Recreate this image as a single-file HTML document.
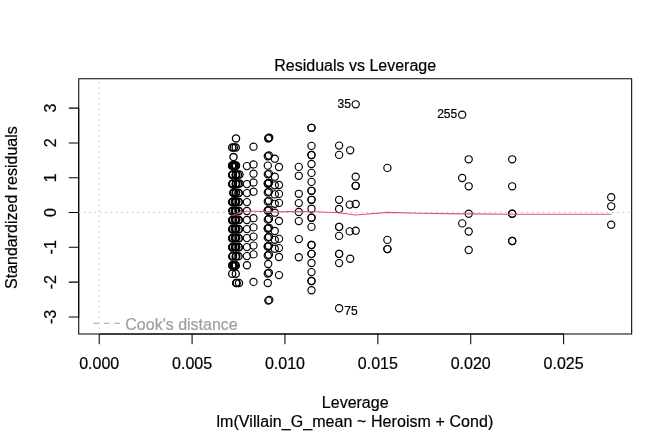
<!DOCTYPE html>
<html lang="en"><head><meta charset="utf-8"><title>Residuals vs Leverage</title>
<style>
html,body{margin:0;padding:0;background:#fff;}
body{width:672px;height:432px;overflow:hidden;position:relative;font-family:"Liberation Sans",Arial,Helvetica,sans-serif;}
</style></head><body>
<svg width="672" height="432" viewBox="0 0 672 432" style="display:block;position:absolute;left:0;top:0">
<rect width="672" height="432" fill="#fff"/>
<g font-family="'Liberation Sans', Arial, Helvetica, sans-serif" font-size="16" fill="#000" stroke="#000" stroke-width="0.2">
<g fill="none" stroke="#000" stroke-width="1.15"><circle cx="236.00" cy="138.40" r="3.6" stroke-width="1.3"/>
<circle cx="232.20" cy="147.46" r="3.6" stroke-width="1.3"/>
<circle cx="233.80" cy="147.46" r="3.6" stroke-width="1.3"/>
<circle cx="235.70" cy="147.46" r="3.6" stroke-width="1.3"/>
<circle cx="233.50" cy="157.10" r="3.6" stroke-width="1.3"/>
<circle cx="232.10" cy="165.83" r="3.6" stroke-width="1.3"/>
<circle cx="232.20" cy="165.83" r="3.6" stroke-width="1.3"/>
<circle cx="232.90" cy="165.28" r="3.6" stroke-width="1.3"/>
<circle cx="233.50" cy="165.68" r="3.6" stroke-width="1.3"/>
<circle cx="234.10" cy="165.33" r="3.6" stroke-width="1.3"/>
<circle cx="234.80" cy="165.33" r="3.6" stroke-width="1.3"/>
<circle cx="235.30" cy="165.88" r="3.6" stroke-width="1.3"/>
<circle cx="235.70" cy="165.88" r="3.6" stroke-width="1.3"/>
<circle cx="236.00" cy="165.38" r="3.6" stroke-width="1.3"/>
<circle cx="232.30" cy="174.89" r="3.6" stroke-width="1.3"/>
<circle cx="232.30" cy="174.89" r="3.6" stroke-width="1.3"/>
<circle cx="232.95" cy="174.34" r="3.6" stroke-width="1.3"/>
<circle cx="235.70" cy="174.94" r="3.6" stroke-width="1.3"/>
<circle cx="236.10" cy="174.44" r="3.6" stroke-width="1.3"/>
<circle cx="236.10" cy="174.44" r="3.6" stroke-width="1.3"/>
<circle cx="238.00" cy="174.79" r="3.6" stroke-width="1.3"/>
<circle cx="239.50" cy="174.54" r="3.6" stroke-width="1.3"/>
<circle cx="232.30" cy="183.95" r="3.6" stroke-width="1.3"/>
<circle cx="232.30" cy="183.95" r="3.6" stroke-width="1.3"/>
<circle cx="232.95" cy="183.40" r="3.6" stroke-width="1.3"/>
<circle cx="235.70" cy="184.00" r="3.6" stroke-width="1.3"/>
<circle cx="236.10" cy="183.50" r="3.6" stroke-width="1.3"/>
<circle cx="236.10" cy="183.50" r="3.6" stroke-width="1.3"/>
<circle cx="238.00" cy="183.85" r="3.6" stroke-width="1.3"/>
<circle cx="239.50" cy="183.60" r="3.6" stroke-width="1.3"/>
<circle cx="233.40" cy="192.86" r="3.6" stroke-width="1.3"/>
<circle cx="233.40" cy="192.86" r="3.6" stroke-width="1.3"/>
<circle cx="234.00" cy="192.51" r="3.6" stroke-width="1.3"/>
<circle cx="235.70" cy="193.06" r="3.6" stroke-width="1.3"/>
<circle cx="236.10" cy="192.56" r="3.6" stroke-width="1.3"/>
<circle cx="238.60" cy="192.91" r="3.6" stroke-width="1.3"/>
<circle cx="238.60" cy="192.91" r="3.6" stroke-width="1.3"/>
<circle cx="232.30" cy="202.07" r="3.6" stroke-width="1.3"/>
<circle cx="232.30" cy="202.07" r="3.6" stroke-width="1.3"/>
<circle cx="232.95" cy="201.52" r="3.6" stroke-width="1.3"/>
<circle cx="234.90" cy="201.57" r="3.6" stroke-width="1.3"/>
<circle cx="235.70" cy="202.12" r="3.6" stroke-width="1.3"/>
<circle cx="236.10" cy="201.62" r="3.6" stroke-width="1.3"/>
<circle cx="236.10" cy="201.62" r="3.6" stroke-width="1.3"/>
<circle cx="238.70" cy="201.97" r="3.6" stroke-width="1.3"/>
<circle cx="238.70" cy="201.97" r="3.6" stroke-width="1.3"/>
<circle cx="232.30" cy="211.13" r="3.6" stroke-width="1.3"/>
<circle cx="232.30" cy="211.13" r="3.6" stroke-width="1.3"/>
<circle cx="232.95" cy="210.58" r="3.6" stroke-width="1.3"/>
<circle cx="234.90" cy="210.63" r="3.6" stroke-width="1.3"/>
<circle cx="235.70" cy="211.18" r="3.6" stroke-width="1.3"/>
<circle cx="236.10" cy="210.68" r="3.6" stroke-width="1.3"/>
<circle cx="236.10" cy="210.68" r="3.6" stroke-width="1.3"/>
<circle cx="238.70" cy="211.03" r="3.6" stroke-width="1.3"/>
<circle cx="238.70" cy="211.03" r="3.6" stroke-width="1.3"/>
<circle cx="232.30" cy="220.19" r="3.6" stroke-width="1.3"/>
<circle cx="232.30" cy="220.19" r="3.6" stroke-width="1.3"/>
<circle cx="232.95" cy="219.64" r="3.6" stroke-width="1.3"/>
<circle cx="234.90" cy="219.69" r="3.6" stroke-width="1.3"/>
<circle cx="235.70" cy="220.24" r="3.6" stroke-width="1.3"/>
<circle cx="236.10" cy="219.74" r="3.6" stroke-width="1.3"/>
<circle cx="236.10" cy="219.74" r="3.6" stroke-width="1.3"/>
<circle cx="238.70" cy="220.09" r="3.6" stroke-width="1.3"/>
<circle cx="238.70" cy="220.09" r="3.6" stroke-width="1.3"/>
<circle cx="232.30" cy="229.25" r="3.6" stroke-width="1.3"/>
<circle cx="232.30" cy="229.25" r="3.6" stroke-width="1.3"/>
<circle cx="232.95" cy="228.70" r="3.6" stroke-width="1.3"/>
<circle cx="234.90" cy="228.75" r="3.6" stroke-width="1.3"/>
<circle cx="235.70" cy="229.30" r="3.6" stroke-width="1.3"/>
<circle cx="236.10" cy="228.80" r="3.6" stroke-width="1.3"/>
<circle cx="236.10" cy="228.80" r="3.6" stroke-width="1.3"/>
<circle cx="238.70" cy="229.15" r="3.6" stroke-width="1.3"/>
<circle cx="238.70" cy="229.15" r="3.6" stroke-width="1.3"/>
<circle cx="232.30" cy="238.31" r="3.6" stroke-width="1.3"/>
<circle cx="232.30" cy="238.31" r="3.6" stroke-width="1.3"/>
<circle cx="232.95" cy="237.76" r="3.6" stroke-width="1.3"/>
<circle cx="234.90" cy="237.81" r="3.6" stroke-width="1.3"/>
<circle cx="235.70" cy="238.36" r="3.6" stroke-width="1.3"/>
<circle cx="236.10" cy="237.86" r="3.6" stroke-width="1.3"/>
<circle cx="236.10" cy="237.86" r="3.6" stroke-width="1.3"/>
<circle cx="238.70" cy="238.21" r="3.6" stroke-width="1.3"/>
<circle cx="238.70" cy="238.21" r="3.6" stroke-width="1.3"/>
<circle cx="232.30" cy="247.37" r="3.6" stroke-width="1.3"/>
<circle cx="232.30" cy="247.37" r="3.6" stroke-width="1.3"/>
<circle cx="232.95" cy="246.82" r="3.6" stroke-width="1.3"/>
<circle cx="234.90" cy="246.87" r="3.6" stroke-width="1.3"/>
<circle cx="235.70" cy="247.42" r="3.6" stroke-width="1.3"/>
<circle cx="236.10" cy="246.92" r="3.6" stroke-width="1.3"/>
<circle cx="236.10" cy="246.92" r="3.6" stroke-width="1.3"/>
<circle cx="238.70" cy="247.27" r="3.6" stroke-width="1.3"/>
<circle cx="238.70" cy="247.27" r="3.6" stroke-width="1.3"/>
<circle cx="232.30" cy="256.43" r="3.6" stroke-width="1.3"/>
<circle cx="233.00" cy="255.88" r="3.6" stroke-width="1.3"/>
<circle cx="235.70" cy="256.48" r="3.6" stroke-width="1.3"/>
<circle cx="236.30" cy="255.98" r="3.6" stroke-width="1.3"/>
<circle cx="238.50" cy="256.33" r="3.6" stroke-width="1.3"/>
<circle cx="232.30" cy="265.49" r="3.6" stroke-width="1.3"/>
<circle cx="232.30" cy="265.49" r="3.6" stroke-width="1.3"/>
<circle cx="232.95" cy="264.94" r="3.6" stroke-width="1.3"/>
<circle cx="233.80" cy="265.34" r="3.6" stroke-width="1.3"/>
<circle cx="234.90" cy="264.99" r="3.6" stroke-width="1.3"/>
<circle cx="235.70" cy="265.54" r="3.6" stroke-width="1.3"/>
<circle cx="235.70" cy="265.54" r="3.6" stroke-width="1.3"/>
<circle cx="232.20" cy="273.70" r="3.6" stroke-width="1.3"/>
<circle cx="235.80" cy="273.70" r="3.6" stroke-width="1.3"/>
<circle cx="236.10" cy="283.00" r="3.6" stroke-width="1.3"/>
<circle cx="236.70" cy="283.00" r="3.6" stroke-width="1.3"/>
<circle cx="239.00" cy="283.00" r="3.6" stroke-width="1.3"/>
<circle cx="246.90" cy="166.10" r="3.6"/>
<circle cx="246.90" cy="184.10" r="3.6"/>
<circle cx="246.90" cy="193.10" r="3.6"/>
<circle cx="246.90" cy="202.10" r="3.6"/>
<circle cx="246.90" cy="211.00" r="3.6"/>
<circle cx="246.90" cy="220.00" r="3.6"/>
<circle cx="246.90" cy="229.10" r="3.6"/>
<circle cx="246.90" cy="238.10" r="3.6"/>
<circle cx="246.90" cy="247.10" r="3.6"/>
<circle cx="246.90" cy="256.10" r="3.6"/>
<circle cx="246.90" cy="265.20" r="3.6"/>
<circle cx="253.50" cy="146.70" r="3.6"/>
<circle cx="253.50" cy="164.50" r="3.6"/>
<circle cx="253.50" cy="173.70" r="3.6"/>
<circle cx="253.50" cy="182.50" r="3.6"/>
<circle cx="253.50" cy="191.70" r="3.6"/>
<circle cx="253.50" cy="218.20" r="3.6"/>
<circle cx="253.50" cy="227.40" r="3.6"/>
<circle cx="253.50" cy="236.60" r="3.6"/>
<circle cx="253.50" cy="245.60" r="3.6"/>
<circle cx="253.50" cy="254.40" r="3.6"/>
<circle cx="253.50" cy="281.90" r="3.6"/>
<circle cx="268.20" cy="138.45" r="3.6"/>
<circle cx="268.75" cy="138.00" r="3.6"/>
<circle cx="269.30" cy="137.60" r="3.6"/>
<circle cx="267.80" cy="156.25" r="3.6"/>
<circle cx="268.90" cy="155.50" r="3.6"/>
<circle cx="267.80" cy="165.65" r="3.6"/>
<circle cx="267.80" cy="174.35" r="3.6"/>
<circle cx="268.90" cy="173.60" r="3.6"/>
<circle cx="267.80" cy="183.55" r="3.6"/>
<circle cx="267.80" cy="183.55" r="3.6"/>
<circle cx="268.90" cy="182.80" r="3.6"/>
<circle cx="268.90" cy="182.80" r="3.6"/>
<circle cx="267.80" cy="192.45" r="3.6"/>
<circle cx="268.90" cy="191.70" r="3.6"/>
<circle cx="267.80" cy="201.55" r="3.6"/>
<circle cx="268.90" cy="200.80" r="3.6"/>
<circle cx="267.80" cy="210.55" r="3.6"/>
<circle cx="267.80" cy="210.55" r="3.6"/>
<circle cx="268.90" cy="209.80" r="3.6"/>
<circle cx="267.80" cy="219.65" r="3.6"/>
<circle cx="268.90" cy="218.90" r="3.6"/>
<circle cx="268.90" cy="218.90" r="3.6"/>
<circle cx="267.80" cy="228.55" r="3.6"/>
<circle cx="267.80" cy="228.55" r="3.6"/>
<circle cx="268.90" cy="227.80" r="3.6"/>
<circle cx="267.80" cy="237.65" r="3.6"/>
<circle cx="268.90" cy="236.90" r="3.6"/>
<circle cx="268.90" cy="236.90" r="3.6"/>
<circle cx="267.80" cy="246.55" r="3.6"/>
<circle cx="267.80" cy="246.55" r="3.6"/>
<circle cx="268.90" cy="245.80" r="3.6"/>
<circle cx="267.80" cy="255.45" r="3.6"/>
<circle cx="268.90" cy="254.70" r="3.6"/>
<circle cx="268.20" cy="264.00" r="3.6"/>
<circle cx="267.80" cy="273.55" r="3.6"/>
<circle cx="268.90" cy="272.80" r="3.6"/>
<circle cx="267.80" cy="283.05" r="3.6"/>
<circle cx="268.30" cy="300.60" r="3.6"/>
<circle cx="269.30" cy="299.90" r="3.6"/>
<circle cx="274.80" cy="158.70" r="3.6"/>
<circle cx="274.80" cy="176.70" r="3.6"/>
<circle cx="274.80" cy="185.30" r="3.6"/>
<circle cx="274.80" cy="194.40" r="3.6"/>
<circle cx="274.80" cy="203.80" r="3.6"/>
<circle cx="274.80" cy="212.70" r="3.6"/>
<circle cx="274.80" cy="231.00" r="3.6"/>
<circle cx="274.80" cy="239.80" r="3.6"/>
<circle cx="274.80" cy="248.70" r="3.6"/>
<circle cx="279.00" cy="167.00" r="3.6"/>
<circle cx="279.00" cy="185.00" r="3.6"/>
<circle cx="279.00" cy="193.90" r="3.6"/>
<circle cx="279.00" cy="202.90" r="3.6"/>
<circle cx="279.00" cy="221.00" r="3.6"/>
<circle cx="279.00" cy="238.90" r="3.6"/>
<circle cx="279.00" cy="248.10" r="3.6"/>
<circle cx="279.00" cy="257.00" r="3.6"/>
<circle cx="279.00" cy="275.10" r="3.6"/>
<circle cx="298.80" cy="166.90" r="3.6"/>
<circle cx="298.80" cy="175.80" r="3.6"/>
<circle cx="298.80" cy="193.80" r="3.6"/>
<circle cx="298.80" cy="203.10" r="3.6"/>
<circle cx="298.80" cy="212.00" r="3.6"/>
<circle cx="298.80" cy="221.10" r="3.6"/>
<circle cx="298.80" cy="239.10" r="3.6"/>
<circle cx="298.80" cy="257.20" r="3.6"/>
<circle cx="311.50" cy="127.80" r="3.6"/>
<circle cx="311.50" cy="127.80" r="3.6"/>
<circle cx="311.50" cy="145.90" r="3.6"/>
<circle cx="311.50" cy="155.00" r="3.6"/>
<circle cx="311.50" cy="155.00" r="3.6"/>
<circle cx="311.50" cy="164.00" r="3.6"/>
<circle cx="311.50" cy="172.90" r="3.6"/>
<circle cx="311.50" cy="181.90" r="3.6"/>
<circle cx="311.50" cy="190.80" r="3.6"/>
<circle cx="311.50" cy="190.80" r="3.6"/>
<circle cx="311.50" cy="199.80" r="3.6"/>
<circle cx="311.50" cy="199.80" r="3.6"/>
<circle cx="311.50" cy="208.70" r="3.6"/>
<circle cx="311.50" cy="217.70" r="3.6"/>
<circle cx="311.50" cy="217.70" r="3.6"/>
<circle cx="311.50" cy="226.90" r="3.6"/>
<circle cx="311.50" cy="245.00" r="3.6"/>
<circle cx="311.50" cy="245.00" r="3.6"/>
<circle cx="311.50" cy="253.90" r="3.6"/>
<circle cx="311.50" cy="253.90" r="3.6"/>
<circle cx="311.50" cy="263.00" r="3.6"/>
<circle cx="311.50" cy="272.10" r="3.6"/>
<circle cx="311.50" cy="281.00" r="3.6"/>
<circle cx="311.50" cy="281.00" r="3.6"/>
<circle cx="311.50" cy="290.20" r="3.6"/>
<circle cx="339.10" cy="145.60" r="3.6"/>
<circle cx="339.10" cy="154.90" r="3.6"/>
<circle cx="339.10" cy="199.80" r="3.6"/>
<circle cx="339.10" cy="209.00" r="3.6"/>
<circle cx="339.10" cy="226.90" r="3.6"/>
<circle cx="339.10" cy="226.90" r="3.6"/>
<circle cx="339.10" cy="235.90" r="3.6"/>
<circle cx="339.10" cy="253.90" r="3.6"/>
<circle cx="339.10" cy="253.90" r="3.6"/>
<circle cx="339.10" cy="263.10" r="3.6"/>
<circle cx="339.10" cy="308.30" r="3.6"/>
<circle cx="350.20" cy="150.30" r="3.6"/>
<circle cx="350.20" cy="258.70" r="3.6"/>
<circle cx="349.70" cy="204.60" r="3.6"/>
<circle cx="349.70" cy="231.40" r="3.6"/>
<circle cx="355.70" cy="104.30" r="3.6"/>
<circle cx="355.70" cy="176.70" r="3.6"/>
<circle cx="355.70" cy="185.80" r="3.6"/>
<circle cx="355.70" cy="185.80" r="3.6"/>
<circle cx="355.70" cy="204.00" r="3.6"/>
<circle cx="355.70" cy="230.70" r="3.6"/>
<circle cx="387.40" cy="167.90" r="3.6"/>
<circle cx="387.40" cy="239.90" r="3.6"/>
<circle cx="387.40" cy="249.10" r="3.6"/>
<circle cx="387.40" cy="249.10" r="3.6"/>
<circle cx="462.20" cy="114.70" r="3.6"/>
<circle cx="462.20" cy="178.00" r="3.6"/>
<circle cx="462.20" cy="223.40" r="3.6"/>
<circle cx="468.70" cy="159.30" r="3.6"/>
<circle cx="468.70" cy="186.30" r="3.6"/>
<circle cx="468.70" cy="213.70" r="3.6"/>
<circle cx="468.70" cy="231.50" r="3.6"/>
<circle cx="468.70" cy="250.00" r="3.6"/>
<circle cx="512.20" cy="159.30" r="3.6"/>
<circle cx="512.20" cy="186.30" r="3.6"/>
<circle cx="512.20" cy="213.70" r="3.6"/>
<circle cx="512.20" cy="213.70" r="3.6"/>
<circle cx="512.20" cy="241.00" r="3.6"/>
<circle cx="512.20" cy="241.00" r="3.6"/>
<circle cx="611.20" cy="197.20" r="3.6"/>
<circle cx="611.20" cy="206.30" r="3.6"/>
<circle cx="611.20" cy="224.70" r="3.6"/></g>
<g fill="none" stroke="#000" stroke-width="1.05" stroke-linecap="round" stroke-linejoin="round">
<path d="M99.20,334.08 L563.60,334.08"/>
<path d="M99.20,334.08 L99.20,343.68"/>
<path d="M192.08,334.08 L192.08,343.68"/>
<path d="M284.96,334.08 L284.96,343.68"/>
<path d="M377.84,334.08 L377.84,343.68"/>
<path d="M470.72,334.08 L470.72,343.68"/>
<path d="M563.60,334.08 L563.60,343.68"/>
<path d="M78.72,316.90 L78.72,108.10"/>
<path d="M78.72,316.90 L69.12,316.90"/>
<path d="M78.72,282.10 L69.12,282.10"/>
<path d="M78.72,247.30 L69.12,247.30"/>
<path d="M78.72,212.50 L69.12,212.50"/>
<path d="M78.72,177.70 L69.12,177.70"/>
<path d="M78.72,142.90 L69.12,142.90"/>
<path d="M78.72,108.10 L69.12,108.10"/>
<rect x="78.72" y="78.72" width="552.96" height="255.36"/>
</g>
<text x="99.20" y="368.64" text-anchor="middle">0.000</text>
<text x="192.08" y="368.64" text-anchor="middle">0.005</text>
<text x="284.96" y="368.64" text-anchor="middle">0.010</text>
<text x="377.84" y="368.64" text-anchor="middle">0.015</text>
<text x="470.72" y="368.64" text-anchor="middle">0.020</text>
<text x="563.60" y="368.64" text-anchor="middle">0.025</text>
<text transform="translate(55.68,316.90) rotate(-90)" text-anchor="middle">-3</text>
<text transform="translate(55.68,282.10) rotate(-90)" text-anchor="middle">-2</text>
<text transform="translate(55.68,247.30) rotate(-90)" text-anchor="middle">-1</text>
<text transform="translate(55.68,212.50) rotate(-90)" text-anchor="middle">0</text>
<text transform="translate(55.68,177.70) rotate(-90)" text-anchor="middle">1</text>
<text transform="translate(55.68,142.90) rotate(-90)" text-anchor="middle">2</text>
<text transform="translate(55.68,108.10) rotate(-90)" text-anchor="middle">3</text>
<text x="355.2" y="71.1" text-anchor="middle">Residuals vs Leverage</text>
<text x="355.2" y="407.8" text-anchor="middle">Leverage</text>
<text x="354.9" y="427.3" text-anchor="middle" letter-spacing="0.07">lm(Villain_G_mean ~ Heroism + Cond)</text>
<text transform="translate(17.28,207.6) rotate(-90)" text-anchor="middle">Standardized residuals</text>
<path d="M78.72,212.5 L631.68,212.5" stroke="#BEBEBE" stroke-width="1.1" stroke-dasharray="1.333 4" fill="none"/>
<path d="M99.2,334.08 L99.2,78.72" stroke="#BEBEBE" stroke-width="1.1" stroke-dasharray="1.333 4" fill="none"/>
<path d="M232.3,215.4 L236.0,214.2 L240.0,213.0 L246.2,211.3 L253.0,211.2 L268.0,211.6 L274.8,212.0 L288.0,211.6 L298.8,211.6 L315.8,211.7 L338.0,212.7 L350.0,214.2 L355.7,215.0 L365.0,214.2 L387.4,212.4 L420.0,213.3 L462.0,213.9 L469.0,213.9 L512.0,214.2 L611.2,214.2" stroke="#DF536B" stroke-width="1.1" fill="none" stroke-linejoin="round"/>
<path d="M93.1,323.2 L120.5,323.2" stroke="#9E9E9E" stroke-width="1.1" stroke-dasharray="5.333 5.333" fill="none"/>
<text x="125.3" y="329.6" fill="#9E9E9E" stroke="#9E9E9E">Cook's distance</text>
<g font-size="12">
<text x="350.9" y="108" text-anchor="end">35</text>
<text x="457.2" y="118.2" text-anchor="end">255</text>
<text x="344.3" y="314.6">75</text>
</g>
</g></svg>
</body></html>
